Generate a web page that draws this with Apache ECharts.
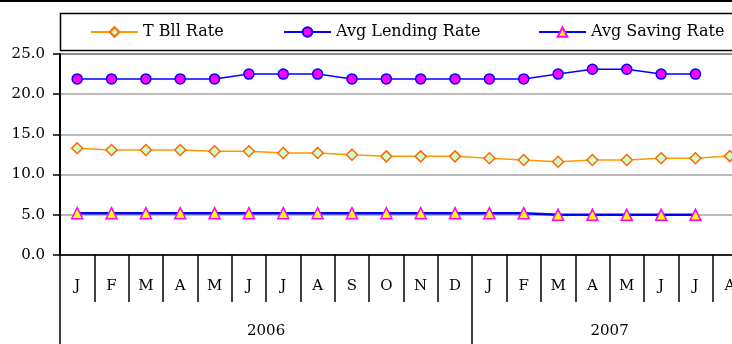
<!DOCTYPE html>
<html>
<head>
<meta charset="utf-8">
<script src="https://cdn.jsdelivr.net/npm/echarts@6/dist/echarts.min.js"></script>
<style>
  html, body { margin: 0; padding: 0; background: #fff; }
  #chart { width: 732px; height: 344px; }
</style>
</head>
<body>
<div id="chart"></div>
<script>
// Monthly interest rates, Jan 2006 – Aug 2007
const months = ['J','F','M','A','M','J','J','A','S','O','N','D',
                'J','F','M','A','M','J','J','A'];
const years = ['2006', '2007'];
const monthsPerYear = [12, 8];

const tBillRate = [13.27, 13.06, 13.06, 13.06, 12.9, 12.9, 12.69, 12.69, 12.48, 12.27, 12.27, 12.27,
                   12.03, 11.82, 11.6, 11.82, 11.82, 12.03, 12.03, 12.3];
const lendingRate = [21.9, 21.9, 21.9, 21.9, 21.9, 22.5, 22.5, 22.5, 21.9, 21.9, 21.9, 21.9,
                     21.9, 21.9, 22.5, 23.1, 23.1, 22.5, 22.5, null];
const savingRate = [5.2, 5.2, 5.2, 5.2, 5.2, 5.2, 5.2, 5.2, 5.2, 5.2, 5.2, 5.2,
                    5.2, 5.2, 5.0, 5.0, 5.0, 5.0, 5.0, null];
const seriesNames = ['T Bll Rate', 'Avg Lending Rate', 'Avg Saving Rate'];

const yTicks = { min: 0, max: 25, step: 5 };

// year band boundaries and label centres on a 0..N month scale
const yearEdges = [0];
const yearCentres = [];
monthsPerYear.forEach(n => {
  const start = yearEdges[yearEdges.length - 1];
  yearCentres.push(start + n / 2);
  yearEdges.push(start + n);
});

const FONT = 'DejaVu Serif';
const chart = echarts.init(document.getElementById('chart'), null, { renderer: 'canvas' });

// one legend block per series, laid out in a single row inside the key box
const legendLefts = [85, 278, 533];
const legends = seriesNames.map((name, i) => ({
  left: legendLefts[i], top: 19,
  itemWidth: 47, itemHeight: 12,
  textStyle: { fontFamily: FONT, fontSize: 16, color: '#000' },
  data: [name]
}));

chart.setOption({
  animation: false,
  backgroundColor: '#fff',
  textStyle: { fontFamily: FONT, color: '#000' },
  // the plot runs past the right edge of the canvas (last month is clipped)
  grid: {
    left: 60, width: 687, top: 54, bottom: 89,
    outerBoundsMode: 'none',
    show: true, borderColor: '#000', borderWidth: 1.5, backgroundColor: 'transparent'
  },
  legend: legends,
  graphic: [
    { type: 'rect', shape: { x: 0, y: 0, width: 732, height: 2 }, style: { fill: '#000' }, silent: true },
    { type: 'rect', shape: { x: 60.5, y: 13.5, width: 700, height: 37 },
      style: { fill: 'none', stroke: '#000', lineWidth: 1.5 }, silent: true, z: -1 }
  ],
  xAxis: [
    {
      type: 'category',
      data: months,
      boundaryGap: true,
      axisLine: { show: true, lineStyle: { color: '#000', width: 1.5 } },
      axisTick: { show: true, interval: 0, length: 47, lineStyle: { color: '#000', width: 1.5 } },
      axisLabel: { interval: 0, margin: 24, fontFamily: FONT, fontSize: 15, color: '#000' },
      splitLine: { show: false }
    },
    {
      type: 'value',
      position: 'bottom',
      offset: 47,
      min: 0, max: months.length,
      axisLine: { show: false },
      axisTick: { show: true, customValues: yearEdges.slice(0, -1), length: 45,
                  lineStyle: { color: '#000', width: 1.5 } },
      axisLabel: {
        customValues: yearCentres,
        margin: 22, fontFamily: FONT, fontSize: 15, color: '#000',
        formatter: v => years[yearCentres.indexOf(v)] || ''
      },
      splitLine: { show: false }
    }
  ],
  yAxis: {
    type: 'value',
    min: yTicks.min, max: yTicks.max, interval: yTicks.step,
    axisLine: { show: true, lineStyle: { color: '#000', width: 2 } },
    axisTick: { show: true, length: 7, lineStyle: { color: '#000', width: 1.5 } },
    axisLabel: { margin: 15, fontFamily: FONT, fontSize: 15, color: '#000',
                 formatter: v => v.toFixed(1) },
    splitLine: { show: true, lineStyle: { color: '#a6a6a6', width: 1.5 } }
  },
  series: [
    {
      name: seriesNames[0], type: 'line', data: tBillRate,
      symbol: 'diamond', symbolSize: 11,
      lineStyle: { color: '#ff9900', width: 1.5 },
      itemStyle: { color: '#ccffcc', borderColor: '#ff6600', borderWidth: 1.5 }
    },
    {
      name: seriesNames[1], type: 'line', data: lendingRate,
      symbol: 'circle', symbolSize: 10,
      lineStyle: { color: '#0000ff', width: 1.5 },
      itemStyle: { color: '#ff00ff', borderColor: '#0000ff', borderWidth: 1.5 }
    },
    {
      name: seriesNames[2], type: 'line', data: savingRate,
      symbol: 'triangle', symbolSize: 11,
      lineStyle: { color: '#0000ff', width: 2.5 },
      itemStyle: { color: '#ffff00', borderColor: '#ff00ff', borderWidth: 1.5 }
    }
  ]
});
</script>
</body>
</html>
